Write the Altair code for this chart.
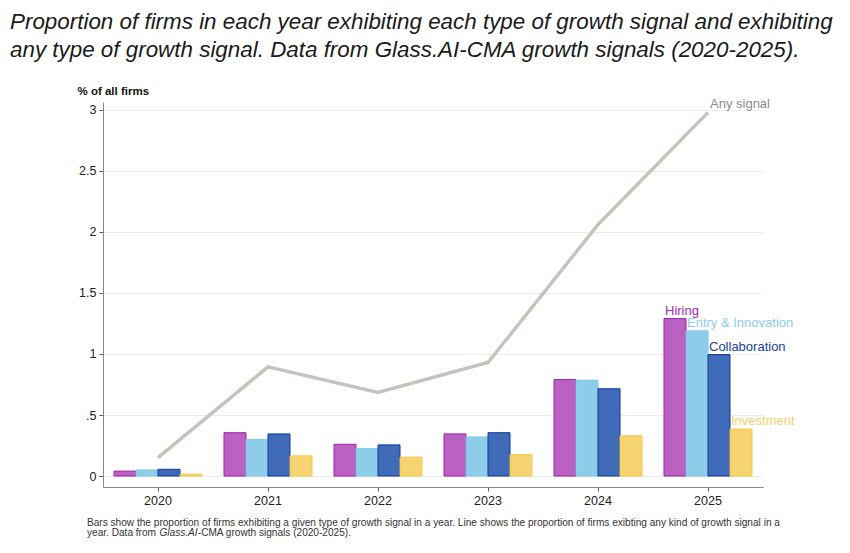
import altair as alt
import pandas as pd

years = ["2020", "2021", "2022", "2023", "2024", "2025"]
hiring = [0.04, 0.355, 0.26, 0.345, 0.79, 1.29]
entry = [0.05, 0.30, 0.225, 0.32, 0.785, 1.19]
collab = [0.055, 0.345, 0.255, 0.355, 0.715, 0.995]
invest = [0.015, 0.165, 0.155, 0.175, 0.33, 0.385]
any_signal = [0.15, 0.895, 0.685, 0.93, 2.06, 2.98]

series = ["Hiring", "Entry & Innovation", "Collaboration", "Investment"]
fills = ["#BA62C2", "#8ECDE9", "#3F6BB8", "#F7D472"]
strokes = ["#A21CB0", "#82C6E7", "#10399E", "#F5C844"]
text_cols = ["#A62AB4", "#8ECDE9", "#1A3F9C", "#F7D06A"]

title_lines = [
    "Proportion of firms in each year exhibiting each type of growth signal and exhibiting",
    "any type of growth signal. Data from Glass.AI-CMA growth signals (2020-2025).",
]
note1 = ("Bars show the proportion of firms exhibiting a given type of growth signal in a year. "
         "Line shows the proportion of firms exibting any kind of growth signal in a")
note2a = "year. Data from "
note2b = "Glass.AI"
note2c = "-CMA growth signals (2020-2025)."

rows = []
for s, vals in zip(series, [hiring, entry, collab, invest]):
    for y, v in zip(years, vals):
        rows.append({"year": y, "series": s, "value": v})
bars_df = pd.DataFrame(rows)
line_df = pd.DataFrame({"year": years, "value": any_signal})
lab_df = bars_df[bars_df.year == years[-1]].copy()
any_lab = line_df.iloc[[-1]].assign(label="Any signal")

FONT = "Liberation Sans"

xscale = alt.Scale(domain=years, paddingInner=0.2, paddingOuter=0.1)
yscale = alt.Scale(domain=[-0.09, 3.065], nice=False, zero=False)
offscale = alt.Scale(domain=series, paddingInner=0, paddingOuter=0)
color_fill = alt.Scale(domain=series, range=fills)
color_stroke = alt.Scale(domain=series, range=strokes)
color_text = alt.Scale(domain=series, range=text_cols)

xenc = alt.X("year:N", scale=xscale, title=None,
             axis=alt.Axis(labelAngle=0, domainColor="#888888", tickColor="#555555",
                           tickSize=4, labelPadding=3, labelFontSize=12.5,
                           labelColor="#222222", grid=False, labelFont=FONT))
yenc = alt.Y("value:Q", scale=yscale,
             title="% of all firms",
             axis=alt.Axis(values=[0, 0.5, 1, 1.5, 2, 2.5, 3],
                           labelExpr="datum.value == 0.5 ? '.5' : toString(datum.value)",
                           domainColor="#888888", tickColor="#555555", tickSize=4,
                           labelPadding=3, labelFontSize=12.5, labelColor="#222222",
                           gridColor="#EBEBEB", gridWidth=1, labelFont=FONT,
                           titleAngle=0, titleAlign="left", titleBaseline="alphabetic",
                           titleX=-26, titleY=-8, titleFontSize=11.5, titleFontWeight="bold",
                           titleColor="#111111", titleFont=FONT))

bars = alt.Chart(bars_df).mark_bar(strokeWidth=1, strokeOpacity=1, fillOpacity=1).encode(
    x=xenc,
    xOffset=alt.XOffset("series:N", sort=series, scale=offscale),
    y=yenc,
    fill=alt.Fill("series:N", scale=color_fill, legend=None),
    stroke=alt.Stroke("series:N", scale=color_stroke, legend=None),
)

line = alt.Chart(line_df).mark_line(color="#C6C2BC", strokeWidth=3.5).encode(
    x=alt.X("year:N", scale=xscale),
    y=alt.Y("value:Q", scale=yscale),
)

labels = alt.Chart(lab_df).mark_text(align="left", baseline="bottom", dx=-10, dy=-1,
                                     fontSize=13, font=FONT).encode(
    x=alt.X("year:N", scale=xscale),
    xOffset=alt.XOffset("series:N", sort=series, scale=offscale),
    y=alt.Y("value:Q", scale=yscale),
    text="series:N",
    color=alt.Color("series:N", scale=color_text, legend=None),
)

any_text = alt.Chart(any_lab).mark_text(align="left", baseline="bottom", dx=2, dy=-1,
                                        fontSize=13, font=FONT, color="#8A8A8A").encode(
    x=alt.X("year:N", scale=xscale),
    y=alt.Y("value:Q", scale=yscale),
    text="label:N",
)

def fixed_text(txt, x, y, size, style="normal", weight="normal", color="#222222"):
    return alt.Chart(pd.DataFrame({"t": [txt]})).mark_text(
        align="left", baseline="alphabetic", fontSize=size, font=FONT,
        fontStyle=style, fontWeight=weight, color=color,
    ).encode(x=alt.value(x), y=alt.value(y), text="t:N")

title1 = fixed_text(title_lines[0], -93, -73.5, 22.4, style="italic", color="#1A1A1A")
title2 = fixed_text(title_lines[1], -93, -45, 22.4, style="italic", color="#1A1A1A")
n1 = fixed_text(note1, -16, 424, 10.1, color="#333333")
n2a = fixed_text(note2a, -16, 434, 10.1, color="#333333")
n2b = fixed_text(note2b, 56.5, 434, 10.1, style="italic", color="#333333")
n2c = fixed_text(note2c, 94.8, 434, 10.1, color="#333333")

chart = alt.layer(bars, line, labels, any_text, title1, title2, n1, n2a, n2b, n2c).properties(
    width=660, height=385,
    autosize=alt.AutoSizeParams(type="none"),
    padding={"left": 95, "top": 94, "right": 79, "bottom": 58},
).configure(background="white").configure_view(stroke=None)

chart.save("out.html", embed_options={"renderer": "svg", "actions": False})
